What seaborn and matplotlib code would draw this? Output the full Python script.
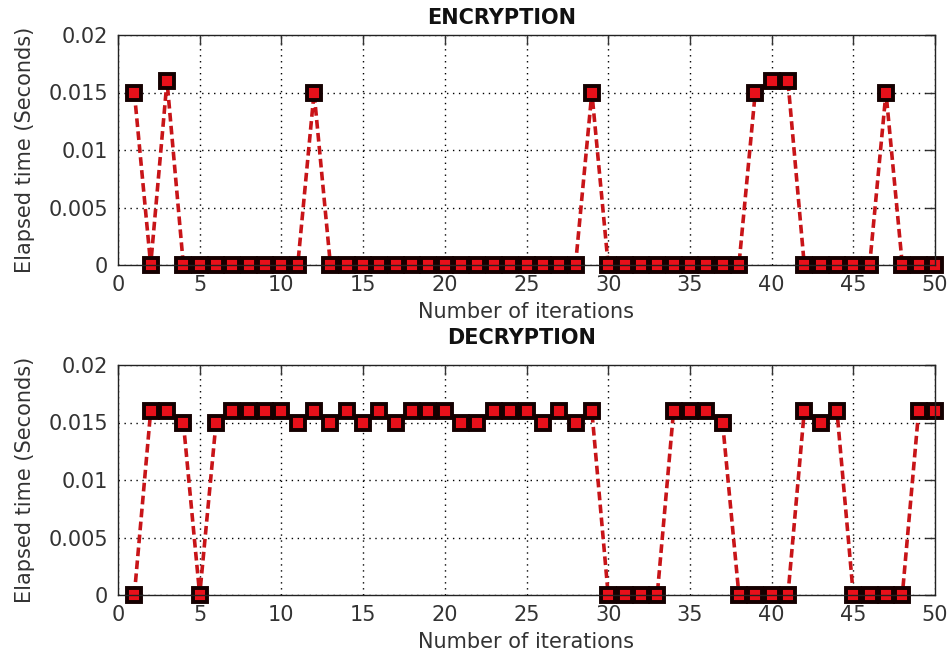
import numpy as np
import pandas as pd
import matplotlib
matplotlib.use("Agg")
import matplotlib.pyplot as plt
import seaborn as sns

# ---- data ----
iterations = list(range(1, 51))

encryption = [0.015, 0, 0.016, 0, 0, 0, 0, 0, 0, 0,
              0, 0.015, 0, 0, 0, 0, 0, 0, 0, 0,
              0, 0, 0, 0, 0, 0, 0, 0, 0.015, 0,
              0, 0, 0, 0, 0, 0, 0, 0, 0.015, 0.016,
              0.016, 0, 0, 0, 0, 0, 0.015, 0, 0, 0]

decryption = [0, 0.016, 0.016, 0.015, 0, 0.015, 0.016, 0.016, 0.016, 0.016,
              0.015, 0.016, 0.015, 0.016, 0.015, 0.016, 0.015, 0.016, 0.016, 0.016,
              0.015, 0.015, 0.016, 0.016, 0.016, 0.015, 0.016, 0.015, 0.016, 0,
              0, 0, 0, 0.016, 0.016, 0.016, 0.015, 0, 0, 0,
              0, 0.016, 0.015, 0.016, 0, 0, 0, 0, 0.016, 0.016]

titles = ["ENCRYPTION", "DECRYPTION"]
x_ticks = [0, 5, 10, 15, 20, 25, 30, 35, 40, 45, 50]
y_ticks = [0, 0.005, 0.01, 0.015, 0.02]
y_tick_labels = ["0", "0.005", "0.01", "0.015", "0.02"]
x_label = "Number of iterations"
y_label = "Elapsed time (Seconds)"

sns.set_style("white")
plt.rcParams["font.family"] = ["DejaVu Sans"]

W, H = 950, 654
fig = plt.figure(figsize=(W / 100, H / 100), dpi=100)

left_px, right_px = 118, 935
axes_px = [(35, 265), (365, 595)]
title_x = [501.5, 521.5]
title_pad_px = [7, 17]

line_color = "#c81418"
face_color = "#e8101a"
edge_color = "#140000"

for i, (series, title) in enumerate(zip([encryption, decryption], titles)):
    top, bot = axes_px[i]
    ax = fig.add_axes([left_px / W, 1 - bot / H, (right_px - left_px) / W, (bot - top) / H])
    df = pd.DataFrame({"iteration": iterations, "time": series})
    sns.lineplot(data=df, x="iteration", y="time", ax=ax, color=line_color,
                 linewidth=2.6, linestyle=(0, (2.4, 1.2)), marker="s",
                 markersize=10.6, markerfacecolor=face_color,
                 markeredgecolor=edge_color, markeredgewidth=2.8,
                 errorbar=None, zorder=2)
    for ln in ax.lines:
        ln.set_clip_on(False)

    ax.set_xlim(0, 50)
    ax.set_ylim(0, 0.02)
    ax.set_xticks(x_ticks)
    ax.set_xticklabels([str(t) for t in x_ticks])
    ax.set_yticks(y_ticks)
    ax.set_yticklabels(y_tick_labels)
    ax.tick_params(direction="in", top=True, right=True, length=7, width=1,
                   labelsize=15, colors="#333333", pad=7)
    for sp in ax.spines.values():
        sp.set_color("#222222")
        sp.set_linewidth(1.0)
        sp.set_zorder(3)
    ax.grid(True, color="black", linestyle=(0, (1, 3.3)), linewidth=1.0)
    ax.set_axisbelow(True)
    ax.set_xlabel(x_label, fontsize=15, color="#333333", labelpad=5)
    ax.set_ylabel(y_label, fontsize=15, color="#333333", labelpad=10)
    ax.text((title_x[i] - left_px) / (right_px - left_px),
            1 + title_pad_px[i] / (bot - top), title,
            transform=ax.transAxes, ha="center", va="bottom",
            fontsize=15, fontweight="bold", color="#111111")

fig.savefig("out.png", dpi=100)
